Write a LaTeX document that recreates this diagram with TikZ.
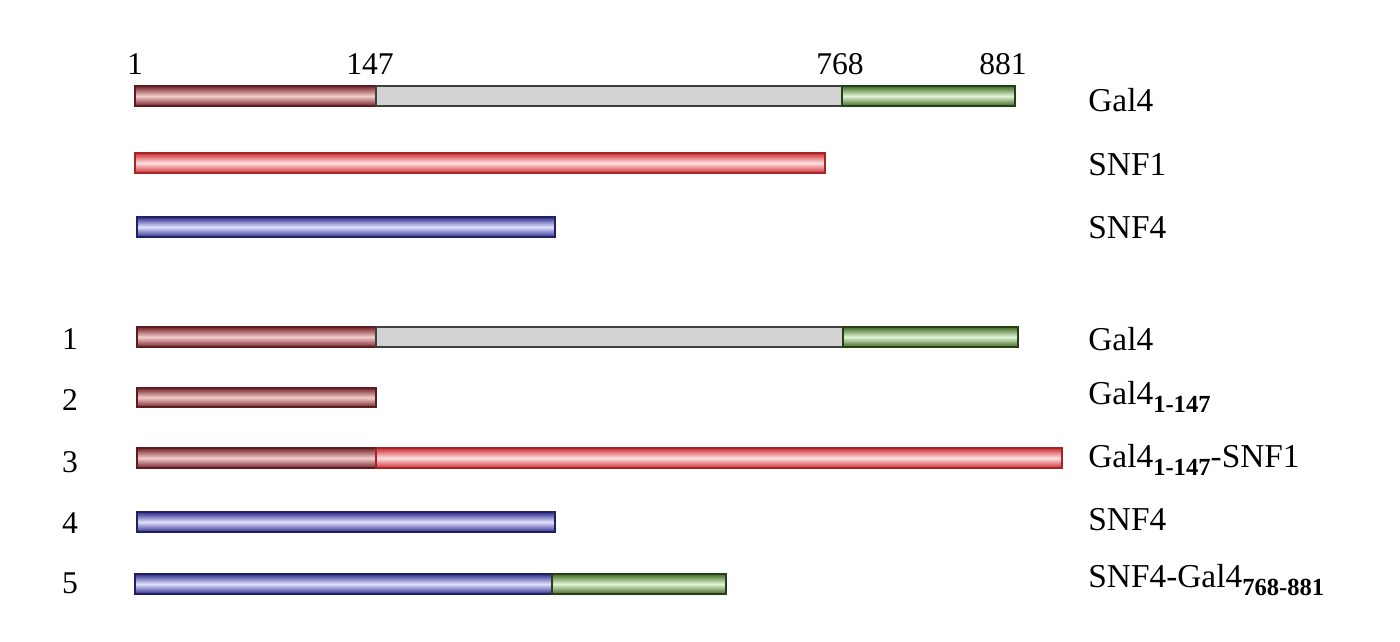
\documentclass[tikz,border=0pt]{standalone}
\usepackage{fontspec}
\setmainfont{Liberation Serif}
\definecolor{brE}{RGB}{115,35,40}
\definecolor{brC}{RGB}{245,205,205}
\definecolor{rdE}{RGB}{205,45,50}
\definecolor{rdC}{RGB}{255,225,225}
\definecolor{blE}{RGB}{45,45,140}
\definecolor{blC}{RGB}{225,225,255}
\definecolor{grE}{RGB}{65,105,35}
\definecolor{grC}{RGB}{225,245,215}
\definecolor{gyF}{RGB}{210,210,210}
\tikzset{
  seg/.style={line width=0.9pt},
  brbar/.style={seg,draw=brE!80!black,top color=brE,bottom color=brE,middle color=brC},
  rdbar/.style={seg,draw=rdE!80!black,top color=rdE,bottom color=rdE,middle color=rdC},
  blbar/.style={seg,draw=blE!70!black,top color=blE,bottom color=blE,middle color=blC},
  gnbar/.style={seg,draw=grE!60!black,top color=grE,bottom color=grE,middle color=grC},
  gybar/.style={seg,draw=black!75,fill=gyF},
  lbl/.style={font=\fontsize{19}{22}\selectfont,inner sep=0pt,anchor=west},
  num/.style={font=\fontsize{18}{21}\selectfont,inner sep=0pt},
}
\newcommand{\subl}[1]{\raisebox{-0.55ex}{\fontsize{14}{16}\selectfont\bfseries #1}}
\begin{document}
\begin{tikzpicture}[x=0.02cm,y=-0.02cm]
\useasboundingbox (0,0) rectangle (1400,642);
% row Gal4
\draw[brbar] (135,86) rectangle (376,106);
\draw[gybar] (376,86) rectangle (842,106);
\draw[gnbar] (842,86) rectangle (1015,106);
\node[num] (n1) at (135,64) {1};
\node[num] (n147) at (370,64) {147};
\node[num] (n768) at (840,64) {768};
\node[num] (n881) at (1003,64) {881};
\node[lbl] (l1) at (1088,100) {Gal4};
% SNF1
\draw[rdbar] (135,153) rectangle (825,173);
\node[lbl] (l2) at (1088,165) {SNF1};
% SNF4
\draw[blbar] (137,217) rectangle (555,237);
\node[lbl] (l3) at (1088,228) {SNF4};
% 1
\draw[brbar] (137,327) rectangle (376,347);
\draw[gybar] (376,327) rectangle (843,347);
\draw[gnbar] (843,327) rectangle (1018,347);
\node[num] (c1) at (70,339) {1};
\node[lbl] (l4) at (1088,339) {Gal4};
% 2
\draw[brbar] (137,388) rectangle (376,407);
\node[num] (c2) at (70,400) {2};
\node[lbl] (l5) at (1088,397) {Gal4\subl{1-147}};
% 3
\draw[brbar] (137,448) rectangle (376,468);
\draw[rdbar] (376,448) rectangle (1062,468);
\node[num] (c3) at (70,462) {3};
\node[lbl] (l6) at (1088,460) {Gal4\subl{1-147}-SNF1};
% 4
\draw[blbar] (137,512) rectangle (555,532);
\node[num] (c4) at (70,523) {4};
\node[lbl] (l7) at (1088,520) {SNF4};
% 5
\draw[blbar] (135,574) rectangle (552,594);
\draw[gnbar] (552,574) rectangle (726,594);
\node[num] (c5) at (70,583) {5};
\node[lbl] (l8) at (1088,580) {SNF4-Gal4\subl{768-881}};
\end{tikzpicture}
\end{document}
